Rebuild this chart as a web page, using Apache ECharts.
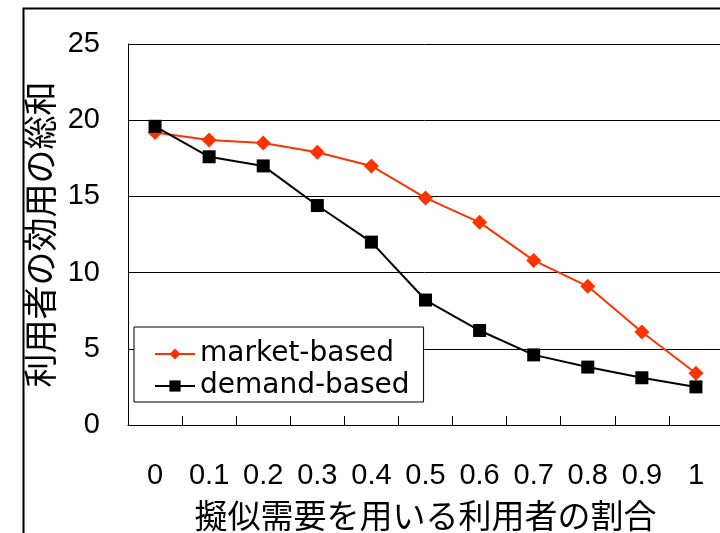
<!DOCTYPE html>
<html>
<head>
<meta charset="utf-8">
<script src="https://cdn.jsdelivr.net/npm/echarts@6/dist/echarts.min.js"></script>
<style>html,body{margin:0;padding:0;background:#fff;}#c{width:720px;height:533px;}</style>
</head>
<body>
<div id="c"></div>
<script>
const categories = ['0','0.1','0.2','0.3','0.4','0.5','0.6','0.7','0.8','0.9','1'];
const marketBased = [19.2, 18.7, 18.5, 17.9, 17.0, 14.9, 13.3, 10.8, 9.1, 6.1, 3.4];
const demandBased = [19.6, 17.6, 17.0, 14.4, 12.0, 8.2, 6.2, 4.6, 3.8, 3.1, 2.5];
const yTicks = [0, 5, 10, 15, 20, 25];
const xName = '擬似需要を用いる利用者の割合';
const yName = '利用者の効用の総和';

const numFont = '"Liberation Sans Narrow", "Liberation Sans", sans-serif';
const legFont = '"DejaVu Sans", sans-serif';
const jpFont = '"Noto Sans CJK JP", sans-serif';

const chart = echarts.init(document.getElementById('c'), null, {renderer: 'canvas'});
chart.setOption({
  animation: false,
  backgroundColor: '#fff',
  graphic: [{
    type: 'rect', left: 21, top: 6,
    shape: {width: 720, height: 540},
    style: {fill: 'none', stroke: '#000', lineWidth: 2},
    z: 100
  }],
  grid: {left: 128, top: 44, width: 595, height: 381, outerBoundsMode: 'none', containLabel: false},
  legend: {
    orient: 'vertical', left: 134, top: 327,
    padding: [13, 14, 2, 20],
    itemWidth: 40, itemHeight: 14, itemGap: 4,
    borderColor: '#000', borderWidth: 1, backgroundColor: '#fff',
    textStyle: {fontFamily: legFont, fontSize: 28, color: '#000'},
    data: ['market-based', 'demand-based']
  },
  xAxis: {
    type: 'category', data: categories, boundaryGap: true,
    name: xName, nameLocation: 'middle', nameGap: 74,
    nameTextStyle: {fontFamily: jpFont, fontSize: 33, color: '#000'},
    axisLine: {lineStyle: {color: '#000', width: 1}},
    axisTick: {show: true, inside: true, length: 9, alignWithLabel: false, lineStyle: {color: '#000'}},
    axisLabel: {fontFamily: numFont, fontSize: 29, color: '#000', margin: 36}
  },
  yAxis: {
    type: 'value', min: yTicks[0], max: yTicks[yTicks.length - 1], interval: 5,
    name: yName, nameLocation: 'middle', nameGap: 70, nameRotate: 90,
    nameTextStyle: {fontFamily: jpFont, fontSize: 34, color: '#000'},
    axisLine: {show: true, lineStyle: {color: '#000', width: 1}},
    axisTick: {show: false},
    splitLine: {show: true, lineStyle: {color: '#000', width: 1}},
    axisLabel: {fontFamily: numFont, fontSize: 29, color: '#000', margin: 28}
  },
  series: [
    {
      name: 'market-based', type: 'line', data: marketBased,
      symbol: 'diamond', symbolSize: 15,
      lineStyle: {color: '#ff3300', width: 2},
      itemStyle: {color: '#ff3300'},
      z: 3
    },
    {
      name: 'demand-based', type: 'line', data: demandBased,
      symbol: 'rect', symbolSize: 13,
      lineStyle: {color: '#000', width: 2},
      itemStyle: {color: '#000'},
      z: 4
    }
  ]
});
</script>
</body>
</html>
